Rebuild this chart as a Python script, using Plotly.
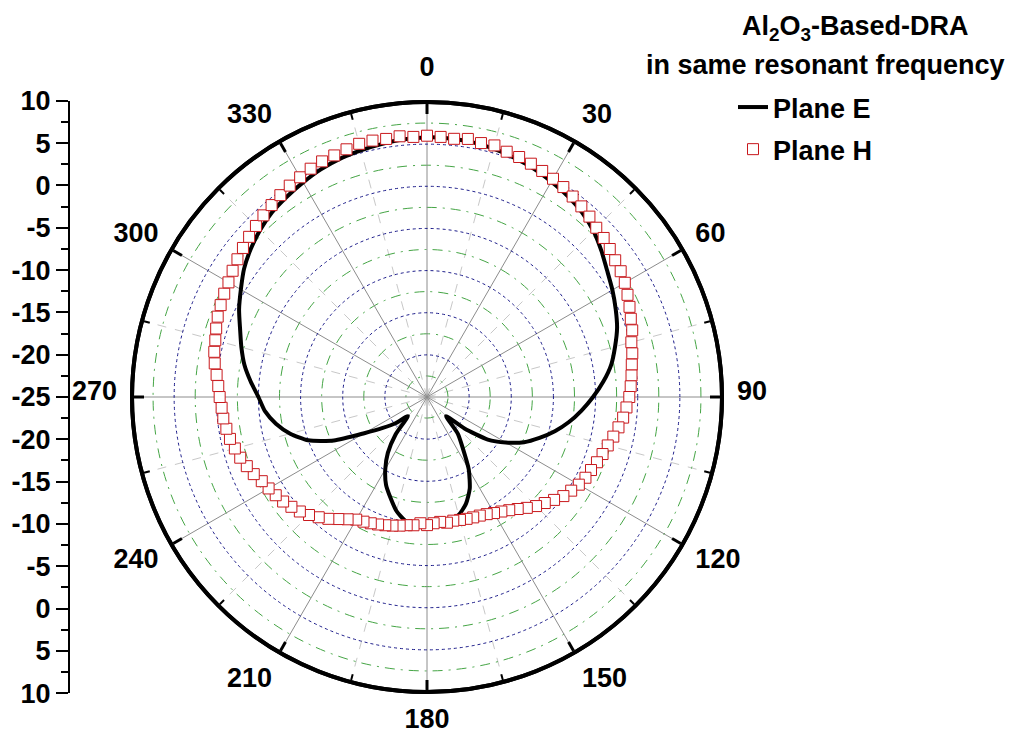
import plotly.graph_objects as go

# ---------------- data ----------------
# Plane E (solid black line), gain in dB every 5 degrees
e_theta = list(range(0, 360, 5))
e_db = [5.8, 5.8, 5.7, 5.5, 5.2, 4.9, 4.5, 4.1, 3.6, 2.9,
        2.0, 1.1, 0.4, -0.3, -1.0, -1.9, -2.8, -4.0, -5.3, -6.6,
        -7.9, -9.3, -10.8, -12.3, -14.2, -16.2, -19.2, -21.8, -19.3, -17.6,
        -15.1, -13.0, -11.5, -10.5, -10.1, -9.9, -9.8, -9.9, -10.1, -11.0,
        -12.3, -13.5, -15.1, -16.9, -19.2, -21.8, -20.2, -18.6, -16.4, -12.8,
        -10.0, -8.2, -6.8, -5.7, -5.0, -4.0, -3.0, -2.2, -1.4, -0.4,
        0.5, 1.5, 2.3, 3.0, 3.6, 4.0, 4.4, 4.8, 5.1, 5.3,
        5.5, 5.7]

# Plane H (open squares), gain in dB every 3 degrees
h_theta = list(range(0, 360, 3))
h_db = [6.0, 5.9, 5.8, 6.0, 5.8, 5.9, 5.6, 5.5, 5.3, 5.1,
        4.9, 4.7, 4.4, 4.1, 3.8, 3.4, 3.2, 2.9, 2.6, 2.4,
        2.1, 1.7, 1.3, 0.9, 0.6, 0.1, -0.1, -0.4, -0.6, -0.8,
        -1.0, -1.3, -1.6, -2.0, -2.4, -2.8, -3.1, -3.4, -3.7, -3.9,
        -4.2, -4.6, -5.0, -5.6, -6.2, -6.7, -7.3, -7.9, -8.4, -8.8,
        -9.1, -9.4, -9.6, -9.7, -9.8, -9.9, -10.0, -9.9, -10.1, -10.0,
        -9.8, -10.0, -9.7, -9.6, -9.4, -9.2, -9.0, -8.8, -8.6, -8.4,
        -8.2, -7.7, -7.1, -6.4, -5.8, -5.2, -4.7, -4.3, -3.9, -3.6,
        -3.3, -3.0, -2.5, -2.1, -1.7, -1.4, -1.1, -0.9, -0.7, -0.6,
        -0.4, -0.2, 0.1, 0.5, 0.8, 1.0, 1.3, 1.6, 1.8, 2.0,
        2.2, 2.5, 2.8, 3.1, 3.4, 3.7, 4.0, 4.3, 4.6, 4.9,
        5.1, 5.4, 5.6, 5.7, 5.9, 6.1, 6.1, 6.0, 6.1, 5.9]

# axes / ticks
r_range = [-25, 10]
radial_major = [-20, -15, -10, -5, 0, 5]
radial_minor = [-22.5, -17.5, -12.5, -7.5, -2.5, 2.5, 7.5]
angle_ticks = list(range(0, 360, 30))
angle_labels = [str(a) for a in angle_ticks]
angle_minor = list(range(15, 360, 30))
left_axis_labels = [10, 5, 0, -5, -10, -15, -20, -25, -20, -15, -10, -5, 0, 5, 10]

title_line1 = "Al<sub>2</sub>O<sub>3</sub>-Based-DRA"
title_line2 = "in same resonant frequency"
series_names = ["Plane E", "Plane H"]

# ---------------- styling ----------------
FONT = "Liberation Sans, Arial, sans-serif"
FS = 27
W, H = 1016, 737
CX, CY, R = 427, 397, 295          # polar centre / radius in px
dom_x = [(CX - R) / W, (CX + R) / W]
dom_y = [(H - CY - R) / H, (H - CY + R) / H]
LABEL_SHIFT = 6                    # angular labels sit slightly higher
dom_y_lab = [(H - CY + LABEL_SHIFT - R) / H, (H - CY + LABEL_SHIFT + R) / H]

# left vertical scale: position = signed distance from centre (dB units)
half = len(left_axis_labels) // 2
left_pos = [(v - r_range[0]) if i <= half else -(v - r_range[0])
            for i, v in enumerate(left_axis_labels)]
span = r_range[1] - r_range[0]
left_minor = [p + 2.5 for p in range(-span, span, 5)]
RL = R * 1.004
left_dom_y = [(H - CY - RL) / H, (H - CY + RL) / H]

fig = go.Figure()

dummy = dict(r=[r_range[0]], theta=[0], mode="markers",
             marker=dict(opacity=0), showlegend=False, hoverinfo="skip")
fig.add_trace(go.Scatterpolar(subplot="polar", **dummy))
fig.add_trace(go.Scatterpolar(subplot="polar2", **dummy))

# data traces on the top polar subplot
fig.add_trace(go.Scatterpolar(
    subplot="polar3",
    r=e_db + e_db[:1], theta=e_theta + e_theta[:1],
    mode="lines", name=series_names[0],
    line=dict(color="black", width=4, shape="spline", smoothing=0.6),
    legendgroup="e"))
fig.add_trace(go.Scatterpolar(
    subplot="polar3",
    r=h_db, theta=h_theta, mode="markers", name=series_names[1],
    marker=dict(symbol="square", size=11, color="white",
                line=dict(color="#c8181c", width=1)),
    legendgroup="h"))

# dummy for the left cartesian scale
fig.add_trace(go.Scatter(x=[0], y=[0], mode="markers", marker=dict(opacity=0),
                         showlegend=False, hoverinfo="skip"))

common_radial = dict(range=r_range, showline=False, showticklabels=False, ticks="")

fig.update_layout(
    width=W, height=H,
    margin=dict(l=0, r=0, t=0, b=0, autoexpand=False),
    paper_bgcolor="white", plot_bgcolor="rgba(0,0,0,0)",
    font=dict(family=FONT, size=FS, color="black", weight="bold"),
    # bottom: minor grid + minor ticks + outer line
    polar=dict(
        domain=dict(x=dom_x, y=dom_y), bgcolor="white",
        radialaxis=dict(**common_radial, tickvals=radial_minor, showgrid=True,
                        gridcolor="#45a545", gridwidth=1,
                        griddash="10px,6px,2px,6px"),
        angularaxis=dict(rotation=90, direction="clockwise", tickvals=angle_minor,
                         ticks="inside", ticklen=6, tickwidth=2, tickcolor="black",
                         showticklabels=False, showline=True, linewidth=4,
                         linecolor="black", showgrid=True, gridcolor="#c8c8c8",
                         gridwidth=1, griddash="dash"),
    ),
    # middle: angular labels only
    polar2=dict(
        domain=dict(x=dom_x, y=dom_y_lab), bgcolor="rgba(0,0,0,0)",
        radialaxis=dict(**common_radial, showgrid=False, visible=False),
        angularaxis=dict(rotation=90, direction="clockwise", tickvals=angle_ticks,
                         ticktext=angle_labels, ticks="outside", ticklen=9,
                         tickcolor="rgba(0,0,0,0)", showline=False, showgrid=False,
                         tickfont=dict(family=FONT, size=FS, weight="bold")),
    ),
    # top: major grid + major ticks + data
    polar3=dict(
        domain=dict(x=dom_x, y=dom_y), bgcolor="rgba(0,0,0,0)",
        radialaxis=dict(**common_radial, tickvals=radial_major, showgrid=True,
                        gridcolor="#1c1c8a", gridwidth=1, griddash="dot",
                        layer="below traces"),
        angularaxis=dict(rotation=90, direction="clockwise", tickvals=angle_ticks,
                         ticks="inside", ticklen=10, tickwidth=3, tickcolor="black",
                         showticklabels=False, showline=True, linewidth=4,
                         linecolor="black", showgrid=True, gridcolor="#8c8c8c",
                         gridwidth=1, layer="below traces"),
    ),
    xaxis=dict(domain=[70 / W, 0.1], range=[0, 1], visible=False, anchor="y",
               automargin=False),
    yaxis=dict(domain=left_dom_y, range=[-span, span], anchor="x",
               automargin=False,
               showline=True, linewidth=2, linecolor="black",
               tickmode="array", tickvals=left_pos,
               ticktext=[str(v) for v in left_axis_labels],
               ticks="outside", ticklen=12, tickwidth=2, tickcolor="black",
               showgrid=False, zeroline=False,
               tickfont=dict(family=FONT, size=FS, weight="bold"),
               minor=dict(tickmode="array", tickvals=left_minor, ticks="outside",
                          ticklen=7, tickwidth=2, tickcolor="black", showgrid=False)),
    showlegend=True,
    legend=dict(x=733 / W, y=1 - 83 / H, xanchor="left", yanchor="top",
                bgcolor="rgba(0,0,0,0)", borderwidth=0,
                font=dict(family=FONT, size=FS, weight="bold"),
                tracegroupgap=4, itemwidth=30),
    annotations=[
        dict(text=title_line1, x=740 / W, y=1 - 28 / H, xref="paper", yref="paper",
             xanchor="left", yanchor="middle", showarrow=False,
             font=dict(family=FONT, size=FS, weight="bold")),
        dict(text=title_line2, x=1007 / W, y=1 - 65 / H, xref="paper", yref="paper",
             xanchor="right", yanchor="middle", showarrow=False,
             font=dict(family=FONT, size=FS, weight="bold")),
    ],
)

fig.write_html("out.html")
